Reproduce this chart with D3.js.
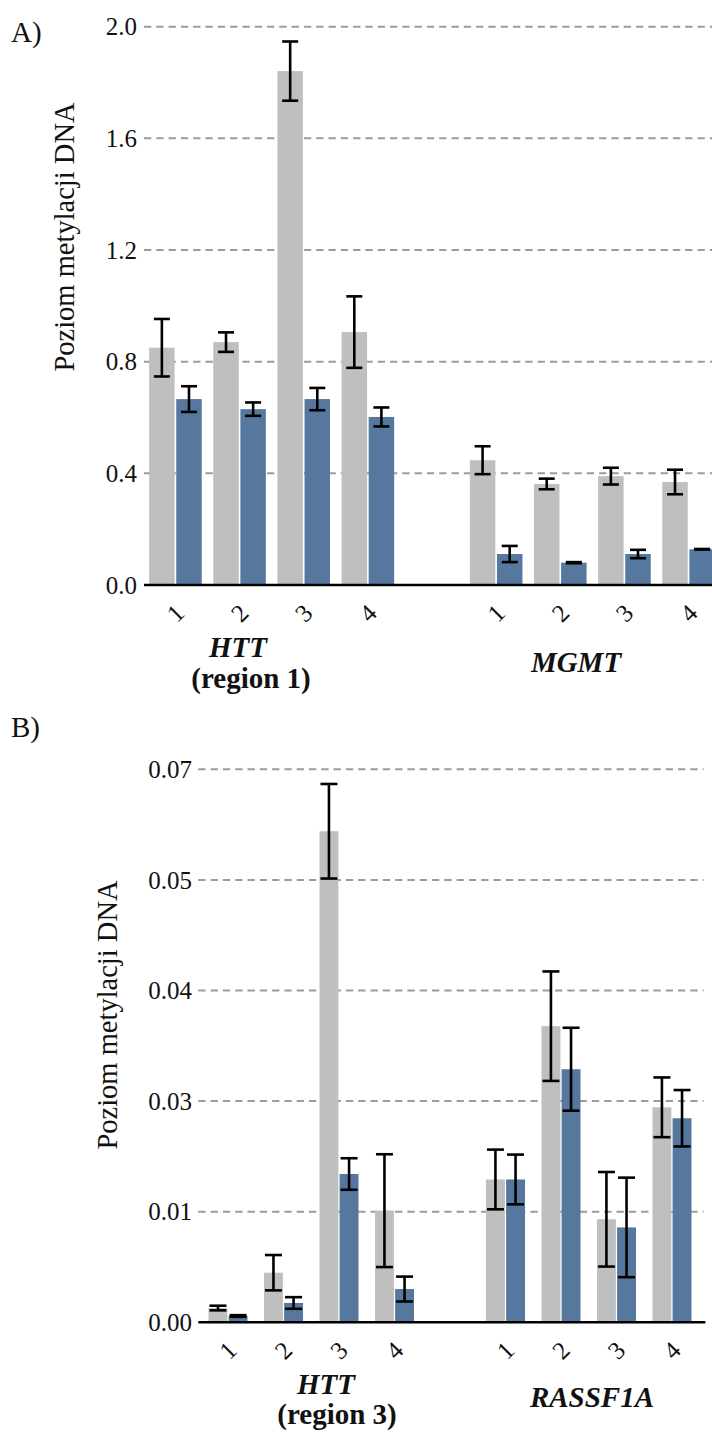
<!DOCTYPE html>
<html>
<head>
<meta charset="utf-8">
<script src="https://cdn.jsdelivr.net/npm/d3@7"></script>
<style>
  html, body { margin: 0; padding: 0; background: #fff; }
  svg { display: block; }
  text { font-family: "Liberation Serif", "Times New Roman", Times, serif; }
</style>
</head>
<body>
<svg id="chart" width="712" height="1432" font-family="Liberation Serif, Times New Roman, serif"></svg>
<script>
// Sample labels on the x axis (four samples per gene)
const sampleLabels = ["1", "2", "3", "4"];

// Panel A: HTT (region 1) and MGMT
const genesA = ["HTT", "MGMT"];
const greyA    = [0.850, 0.870, 1.841, 0.906, 0.447, 0.362, 0.390, 0.369];
const greyErrA = [0.103, 0.035, 0.106, 0.128, 0.050, 0.019, 0.030, 0.044];
const blueA    = [0.666, 0.630, 0.666, 0.602, 0.111, 0.080, 0.111, 0.128];
const blueErrA = [0.046, 0.024, 0.040, 0.034, 0.029, 0.002, 0.015, 0.001];
const yTicksA      = [0, 0.4, 0.8, 1.2, 1.6, 2.0];
const yTickLabelsA = ["0.0", "0.4", "0.8", "1.2", "1.6", "2.0"];

// Panel B: HTT (region 3) and RASSF1A
const genesB = ["HTT", "RASSF1A"];
const greyB    = [0.00172, 0.00598, 0.0592, 0.01346, 0.01722, 0.0357, 0.01242, 0.02592];
const greyErrB = [0.00028, 0.00213, 0.0057, 0.0068, 0.0036, 0.0066, 0.0057, 0.0036];
const blueB    = [0.00076, 0.00233, 0.01788, 0.00401, 0.01722, 0.03051, 0.01144, 0.0246];
const blueErrB = [0.00010, 0.00070, 0.0019, 0.0015, 0.0030, 0.0050, 0.0060, 0.0034];
const yTicksB      = [0, 0.01333, 0.02667, 0.04, 0.05333, 0.06667];
const yTickLabelsB = ["0.00", "0.01", "0.03", "0.04", "0.05", "0.07"];

const yTitle = "Poziom metylacji DNA";
const GREY = "#bfbfbf";
const BLUE = "#56789e";
const FONT = "Liberation Serif, Times New Roman, serif";

const svg = d3.select("#chart");

function drawPanel(cfg) {
  const g = svg.append("g");
  // 9 slots: 4 samples, one empty slot, 4 samples
  const slots = d3.range(9);
  const x = d3.scaleBand().domain(slots)
    .range([cfg.left, cfg.right])
    .paddingInner(cfg.padInner).paddingOuter(cfg.padOuter);
  const inner = d3.scaleBand().domain(["grey", "blue"])
    .range([0, x.bandwidth()]).paddingInner(0.06);
  const y = d3.scaleLinear().domain(cfg.yDomain).range([cfg.y0, cfg.yTop]);

  const slotOf = i => (i < 4 ? i : i + 1);

  // dashed horizontal grid lines (behind bars)
  g.append("g").selectAll("line")
    .data(cfg.yTicks.filter(v => v > 0))
    .join("line")
      .attr("x1", cfg.left).attr("x2", cfg.gridRight)
      .attr("y1", d => y(d)).attr("y2", d => y(d))
      .attr("stroke", "#9c9c9c").attr("stroke-width", 2)
      .attr("stroke-dasharray", "7.3,5");

  // y tick labels
  g.append("g").selectAll("text")
    .data(cfg.yTicks)
    .join("text")
      .attr("x", cfg.tickRight).attr("y", d => y(d))
      .attr("dy", "0.35em")
      .attr("text-anchor", "end")
      .attr("font-family", FONT)
      .attr("font-size", 25)
      .attr("fill", "#111")
      .text((d, i) => cfg.yTickLabels[i]);

  const series = [
    { key: "grey", vals: cfg.grey, errs: cfg.greyErr, color: GREY },
    { key: "blue", vals: cfg.blue, errs: cfg.blueErr, color: BLUE }
  ];

  // bars
  series.forEach(s => {
    g.append("g").selectAll("rect")
      .data(s.vals)
      .join("rect")
        .attr("x", (d, i) => x(slotOf(i)) + inner(s.key))
        .attr("width", inner.bandwidth())
        .attr("y", d => y(d))
        .attr("height", d => cfg.y0 - y(d))
        .attr("fill", s.color);
  });

  // error bars
  series.forEach(s => {
    const eb = g.append("g").attr("stroke", "#000").attr("stroke-width", 2.6);
    s.vals.forEach((v, i) => {
      const cx = x(slotOf(i)) + inner(s.key) + inner.bandwidth() / 2;
      const hi = y(v + s.errs[i]), lo = y(v - s.errs[i]);
      const w = cfg.capW / 2;
      eb.append("line").attr("x1", cx).attr("x2", cx).attr("y1", hi).attr("y2", lo);
      eb.append("line").attr("x1", cx - w).attr("x2", cx + w).attr("y1", hi).attr("y2", hi);
      eb.append("line").attr("x1", cx - w).attr("x2", cx + w).attr("y1", lo).attr("y2", lo);
    });
  });

  // baseline
  g.append("line")
    .attr("x1", cfg.left).attr("x2", cfg.axisRight)
    .attr("y1", cfg.y0).attr("y2", cfg.y0)
    .attr("stroke", "#000").attr("stroke-width", 2.6);

  // rotated sample labels
  g.append("g").selectAll("text")
    .data(d3.range(8))
    .join("text")
      .attr("transform", i => `translate(${x(slotOf(i)) + x.bandwidth() / 2},${cfg.y0 + 28}) rotate(-45)`)
      .attr("text-anchor", "middle")
      .attr("dominant-baseline", "central")
      .attr("font-family", FONT)
      .attr("font-size", 25)
      .attr("fill", "#111")
      .text(i => sampleLabels[i % 4]);

  // gene labels
  cfg.geneLabels.forEach(l => {
    g.append("text")
      .attr("x", l.x).attr("y", l.y)
      .attr("text-anchor", "middle")
      .attr("font-family", FONT)
      .attr("font-size", 29)
      .attr("font-weight", "bold")
      .attr("font-style", "italic")
      .attr("fill", "#111")
      .text(l.gene);
    if (l.sub) {
      g.append("text")
        .attr("x", l.subX).attr("y", l.subY)
        .attr("text-anchor", "middle")
        .attr("font-family", FONT)
        .attr("font-size", 29)
        .attr("font-weight", "bold")
        .attr("fill", "#111")
        .text(l.sub);
    }
  });

  // y axis title
  g.append("text")
    .attr("transform", `translate(${cfg.titleX},${cfg.titleY}) rotate(-90)`)
    .attr("text-anchor", "middle")
    .attr("font-family", FONT)
    .attr("font-size", 28.5)
    .attr("fill", "#111")
    .text(yTitle);

  // panel letter
  g.append("text")
    .attr("x", 11).attr("y", cfg.letterY)
    .attr("font-family", FONT)
    .attr("font-size", 29)
    .attr("fill", "#111")
    .text(cfg.letter);
}

drawPanel({
  letter: "A)", letterY: 42,
  left: 144, right: 720, padInner: 0.18, padOuter: 0.08,
  gridRight: 712, axisRight: 712, tickRight: 137,
  y0: 585, yTop: 26.7, yDomain: [0, 2.0],
  yTicks: yTicksA, yTickLabels: yTickLabelsA,
  grey: greyA, greyErr: greyErrA, blue: blueA, blueErr: blueErrA,
  capW: 16,
  titleX: 74, titleY: 237,
  geneLabels: [
    { gene: genesA[0], x: 238, y: 657, sub: "(region 1)", subX: 251, subY: 688 },
    { gene: genesA[1], x: 576, y: 672 }
  ]
});

drawPanel({
  letter: "B)", letterY: 737,
  left: 198.3, right: 701.7, padInner: 0.297, padOuter: 0.184,
  gridRight: 703.6, axisRight: 705.4, tickRight: 192,
  y0: 1322.3, yTop: 769.3, yDomain: [0, 0.06667],
  yTicks: yTicksB, yTickLabels: yTickLabelsB,
  grey: greyB, greyErr: greyErrB, blue: blueB, blueErr: blueErrB,
  capW: 17,
  titleX: 117, titleY: 1015,
  geneLabels: [
    { gene: genesB[0], x: 326, y: 1394, sub: "(region 3)", subX: 337, subY: 1424 },
    { gene: genesB[1], x: 592, y: 1407 }
  ]
});
</script>
</body>
</html>
